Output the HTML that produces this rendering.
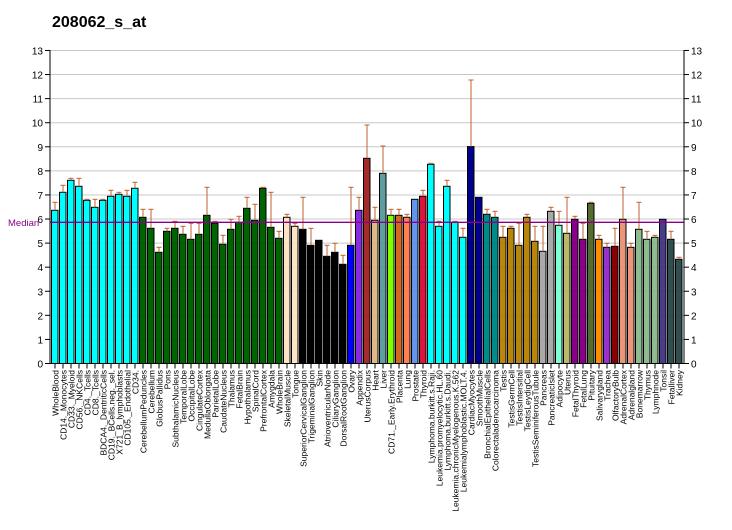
<!DOCTYPE html>
<html><head><meta charset="utf-8"><style>
body{margin:0;background:#fff;}
svg{display:block;font-family:"Liberation Sans",sans-serif;}
</style></head><body>
<svg id="s" width="732" height="530" xmlns="http://www.w3.org/2000/svg"></svg>
<script>
const names=["WholeBlood","CD14._Monocytes","CD33._Myeloid","CD56._NKCells","CD4._Tcells","CD8._Tcells","BDCA4._DentriticCells","CD19._BCells.neg._sel.","X721_B_lymphoblasts","CD105._Endothelial","CD34.",
"CerebellumPeduncles","Cerebellum","GlobusPallidus","Pons","SubthalamicNucleus","TemporalLobe","OccipitalLobe","CingulateCortex","MedullaOblongata","ParietalLobe","CaudateNucleus","Thalamus","FetalBrain","Hypothalamus","SpinalCord","PrefrontalCortex","Amygdala","WholeBrain",
"SkeletalMuscle","Tongue","SuperiorCervicalGanglion","TrigeminalGanglion","Skin","AtrioventricularNode","CiliaryGanglion","DorsalRootGanglion","Ovary","Appendix","UterusCorpus",
"Heart","Liver","CD71._Early.Erythroid","Placenta","Lung","Prostate","Thyroid","Lymphoma.burkitt.s.Raji.","Leukemia.promyelocytic.HL.60","Lymphoma.burkitt.s.Daudi.","Leukemia.chronicMyelogenous.K.562","Leukemialymphoblastic.MOLT.4.","CardiacMyocytes","SmoothMuscle","BronchialEpithelialCells","Colorectaladenocarcinoma",
"Testis","TestisGermCell","TestisIntersitial","TestisLeydigCell","TestisSeminiferousTubule","Pancreas","PancreaticIslet","Adipocyte","Uterus","FetalThyroid","FetalLung","Pituitary","Salivarygland","Trachea","OlfactoryBulb","AdrenalCortex","Adrenalgland","Bonemarrow","Thymus","Lymphnode","Tonsil","Fetalliver","Kidney"];
const C=[];for(let i=0;i<11;i++)C.push("#00FFFF");for(let i=0;i<18;i++)C.push("#006400");
C.push("#FFE4C4","#FFE4C4");for(let i=0;i<6;i++)C.push("#000000");
C.push("#0000FF","#8A2BE2","#A52A2A","#DEB887","#5F9EA0","#7FFF00","#D2691E","#FF7F50","#6495ED","#DC143C","#00FFFF","#00FFFF","#00FFFF","#00FFFF","#00FFFF","#00008B","#00008B","#008B8B","#008B8B","#B8860B","#B8860B","#B8860B","#B8860B","#B8860B","#A9A9A9","#A9A9A9","#7FFFD4","#BDB76B","#8B008B","#8B008B","#556B2F","#FF8C00","#9932CC","#8B0000","#E9967A","#E9967A","#8FBC8F","#8FBC8F","#8FBC8F","#483D8B","#2F4F4F","#2F4F4F");
const tops=[210.3,192.3,180.3,186.3,200.3,207.3,200.3,196.3,194.3,196.3,188.3,
217.3,228.3,252.3,231.3,228.3,234.3,239.3,234.3,215.3,223.3,244.3,229.3,222.3,208.3,220.3,188.3,227.3,238.3,
217.3,226.3,229.3,245.3,240.3,256.3,252.3,264.3,245.3,210.3,158.3,
220.3,173.3,215.3,215.3,217.3,199.3,196.3,164.3,226.3,186.3,222.3,237.3,146.6,197.3,214.3,217.3,
237.3,228.3,245.3,217.3,241.3,251.3,211.3,225.3,233.3,219.3,239.3,203.3,239.3,247.3,246.3,219.3,247.3,229.3,239.3,237.3,219.3,239.3,259.3];
const errs=[202.3,185.3,178.3,178.3,199.3,199.3,199.3,190.3,192.3,190.3,182.3,
209.3,209.3,247.3,228.3,221.3,226.3,223.3,223.3,187.3,221.3,235.3,219.3,216.3,197.3,204.3,187.3,192.3,231.3,
214.3,223.3,197.3,228.3,null,245.3,243.3,255.3,187.3,197.3,125,
207.3,146,209.3,209.3,214.3,null,190.3,163.3,221.3,180.3,221.3,228.3,80,null,209.3,211.3,
226.3,226.3,223.3,214.3,226.3,226.3,207.3,211.3,197.3,216.3,223.3,202.3,235.3,243.3,228.3,187.3,243.3,202.3,231.3,235.3,null,231.3,257.3];
let h='';
const y0=363.5,u=24.08;
h+=`<text x="52" y="27" font-size="16" font-weight="bold">208062_s_at</text>`;
for(let k=0;k<=13;k++){const y=y0-k*u;
 if(k>0)h+=`<line x1="50" x2="684" y1="${y}" y2="${y}" stroke="#c8c8c8" stroke-width="1"/>`;
 h+=`<line x1="45" x2="50" y1="${y}" y2="${y}" stroke="#000"/><line x1="684" x2="689" y1="${y}" y2="${y}" stroke="#000"/>`;
 h+=`<text x="43" y="${y+4}" font-size="10" text-anchor="end">${k}</text><text x="691" y="${y+4}" font-size="10">${k}</text>`;}
for(let i=0;i<79;i++){const x=51+8*i;const t=tops[i];
 h+=`<rect x="${x+0.5}" y="${t}" width="6.5" height="${y0-t}" fill="${C[i]}" stroke="#000" stroke-width="1"/>`;
 if(errs[i]!=null){h+=`<line x1="${x+4}" x2="${x+4}" y1="${errs[i]}" y2="${t}" stroke="#C0602F"/><line x1="${x+1.5}" x2="${x+6.5}" y1="${errs[i]}" y2="${errs[i]}" stroke="#C0602F"/>`;}
 h+=`<line x1="${x+4}" x2="${x+4}" y1="${y0}" y2="${y0+5}" stroke="#000"/>`;
 h+=`<text transform="translate(${x+7.3},370) rotate(-90)" font-size="8.5" text-anchor="end">${names[i]}</text>`;}
h+=`<line x1="50" x2="684" y1="222.3" y2="222.3" stroke="#8B008B" stroke-width="1.3"/>`;
h+=`<text x="8" y="226" font-size="9.5" fill="#8B008B">Median</text>`;
h+=`<line x1="50" x2="50" y1="50" y2="${y0}" stroke="#000"/><line x1="684" x2="684" y1="50" y2="${y0}" stroke="#000"/><line x1="50" x2="684" y1="${y0}" y2="${y0}" stroke="#000"/>`;
document.getElementById('s').innerHTML=h;
</script>
</body></html>
